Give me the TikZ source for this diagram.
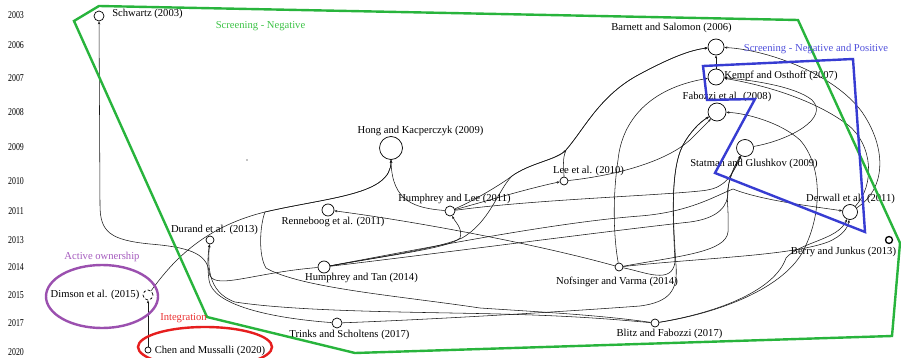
\documentclass[tikz,border=0pt]{standalone}
\usepackage{fontspec}
\setmainfont{Liberation Serif}
\usetikzlibrary{arrows.meta,backgrounds}
\definecolor{grn}{RGB}{40,180,60}
\definecolor{grntxt}{RGB}{60,195,70}
\definecolor{blu}{RGB}{55,60,210}
\definecolor{blutxt}{RGB}{80,80,220}
\definecolor{pur}{RGB}{155,80,175}
\definecolor{purtxt}{RGB}{165,90,190}
\definecolor{rd}{RGB}{230,30,30}
\definecolor{rdtxt}{RGB}{235,50,50}
\newcommand\labfont{\fontsize{10.6}{12}\selectfont}
\newcommand\yrtxt[1]{\scalebox{0.75}[1]{\fontsize{10.5}{10.5}\selectfont #1}}
\tikzset{
  pub/.style={circle, draw=black, line width=0.7pt, fill=white, inner sep=0pt},
  lab/.style={font=\labfont, inner sep=0pt, text=black},
  yr/.style={inner sep=0pt},
  cite/.style={draw=black!90, line width=0.55pt, -{Stealth[length=3pt,width=2.4pt]}},
  grp/.style={line width=2.4pt, line join=miter},
}
\begin{document}
\begin{tikzpicture}[x=1pt,y=-1pt]
\useasboundingbox (0,0) rectangle (901,358);
\clip (0,0) rectangle (901,358);

% year axis
\node[yr] (y03) at (16,15) {\yrtxt{2003}};
\node[yr] (y06) at (16,45) {\yrtxt{2006}};
\node[yr] (y07) at (16,78) {\yrtxt{2007}};
\node[yr] (y08) at (16,112) {\yrtxt{2008}};
\node[yr] (y09) at (16,147) {\yrtxt{2009}};
\node[yr] (y10) at (16,181) {\yrtxt{2010}};
\node[yr] (y11) at (16,211) {\yrtxt{2011}};
\node[yr] (y13) at (16,240) {\yrtxt{2013}};
\node[yr] (y14) at (16,267) {\yrtxt{2014}};
\node[yr] (y15) at (16,295) {\yrtxt{2015}};
\node[yr] (y17) at (16,323) {\yrtxt{2017}};
\node[yr] (y20) at (16,352) {\yrtxt{2020}};

% publications
\node[pub, minimum size=10pt] (sch) at (99,16) {};
\node[pub, minimum size=16pt] (bar) at (716,47) {};
\node[pub, minimum size=16pt] (kem) at (716,77) {};
\node[pub, minimum size=18pt] (fab) at (717,112) {};
\node[pub, minimum size=23pt] (hon) at (391,148) {};
\node[pub, minimum size=17pt] (sta) at (745,148) {};
\node[pub, minimum size=8pt] (lee) at (564,181) {};
\node[pub, minimum size=10pt] (hle) at (450,211) {};
\node[pub, minimum size=12pt] (ren) at (328,210) {};
\node[pub, minimum size=15pt] (der) at (850,212) {};
\node[pub, minimum size=8pt] (dur) at (210,240) {};
\node[pub, minimum size=7pt, line width=1.3pt] (ber) at (889,240) {};
\node[pub, minimum size=12pt] (hta) at (324,267) {};
\node[pub, minimum size=8pt] (nof) at (619,267) {};
\node[pub, minimum size=10pt, densely dashed] (dim) at (148,295) {};
\node[pub, minimum size=10pt] (tri) at (337,323) {};
\node[pub, minimum size=8pt] (bli) at (655,323) {};
\node[pub, minimum size=6pt] (che) at (148,350) {};
\fill (247,160) circle (0.6pt);

% citation links
\begin{scope}[on background layer]
\fill[white] (0,0) rectangle (901,358);
\draw[cite] (hta) .. controls (250,273) and (211,292) .. (209,272) .. controls (207,252) and (185,247) .. (150,244) .. controls (110,240) and (100,232) .. (100,205) -- (sch);
\draw[cite] (tri) .. controls (270,318) and (212,305) .. (209,280) .. controls (207,265) and (208,255) .. (dur);
\draw[cite] (bli) .. controls (620,320) and (580,316) .. (500,314) .. controls (420,312) and (300,312) .. (235,302) .. controls (206,292) and (208,262) .. (dur);
\draw[cite] (tri) .. controls (420,320) and (560,312) .. (640,306) .. controls (670,302) and (678,290) .. (676,265) .. controls (673,220) and (670,170) .. (683,145) .. controls (690,132) and (700,122) .. (fab);
\draw[cite] (nof) .. controls (645,272) and (672,285) .. (675,262) .. controls (673,220) and (670,170) .. (683,145) .. controls (690,132) and (700,122) .. (fab);
\draw[cite] (bli) .. controls (600,315) and (540,312) .. (480,308) .. controls (400,296) and (300,288) .. (266,268) .. controls (258,255) and (260,225) .. (265,212) .. controls (330,197) and (391,195) .. (hon.south);
\draw[cite] (dim) .. controls (170,265) and (200,228) .. (265,212) .. controls (330,197) and (391,195) .. (hon.south);
\draw[cite] (hle) .. controls (415,208) and (392,202) .. (hon.south);
\draw[cite] (che) -- (dim);
\draw[cite] (hle) .. controls (490,200) and (530,188) .. (lee);
\draw[cite] (hta) .. controls (380,257) and (440,248) .. (462,238) .. controls (490,222) and (498,190) .. (512,176) .. controls (530,163) and (556,160) .. (566,150) .. controls (585,128) and (600,95) .. (640,74) .. controls (670,58) and (690,50) .. (bar);
\draw[cite] (lee) .. controls (564,165) and (562,160) .. (566,150) .. controls (585,128) and (600,95) .. (640,74) .. controls (670,58) and (690,50) .. (bar);
\draw[cite] (hle) .. controls (475,200) and (500,185) .. (512,176) .. controls (530,163) and (556,160) .. (566,150);
\draw[cite] (lee) .. controls (620,175) and (670,160) .. (692,138) .. controls (702,128) and (708,122) .. (fab);
\draw[cite] (nof) .. controls (614,240) and (612,200) .. (618,160) .. controls (622,120) and (650,88) .. (kem);
\draw[cite] (nof) .. controls (540,245) and (420,222) .. (ren);
\draw[cite] (hle) .. controls (530,200) and (650,196) .. (700,191) .. controls (720,189) and (728,184) .. (sta);
\draw[cite] (hta) .. controls (440,245) and (560,222) .. (640,216) .. controls (690,212) and (715,196) .. (733,189) .. controls (760,200) and (810,206) .. (der);
\draw[cite] (hta) .. controls (450,252) and (600,232) .. (690,222) .. controls (720,218) and (728,205) .. (728,192) .. controls (728,178) and (735,165) .. (sta);
\draw[cite] (kem) -- (bar);
\draw[cite] (sta) .. controls (790,140) and (830,118) .. (812,100) .. controls (795,86) and (750,80) .. (kem);
\draw[cite] (der) .. controls (885,190) and (888,150) .. (862,112) .. controls (835,75) and (770,50) .. (bar);
\draw[cite] (der) .. controls (875,185) and (873,145) .. (848,125) .. controls (815,100) and (765,85) .. (kem);
\draw[cite] (bli) .. controls (720,312) and (775,290) .. (786,258) .. controls (800,242) and (838,240) .. (der);
\draw[cite] (bli) .. controls (725,312) and (790,285) .. (806,245) .. controls (822,210) and (822,165) .. (800,140) .. controls (780,122) and (745,113) .. (fab);
\draw[cite] (nof) .. controls (700,258) and (790,256) .. (828,242) .. controls (842,236) and (848,228) .. (der);
\draw[cite] (nof) .. controls (680,256) and (726,252) .. (728,232) .. controls (729,210) and (726,195) .. (728,188) .. controls (730,175) and (736,165) .. (sta);
\draw[cite] (hta) .. controls (390,255) and (450,248) .. (460,238) .. controls (463,228) and (455,222) .. (hle);
\end{scope}

% labels
\node[lab] (lsch) at (147.5,14) {Schwartz (2003)};
\node[lab] (lbar) at (671.5,28) {Barnett and Salomon (2006)};
\node[lab] (lkem) at (781,76) {Kempf and Osthoff (2007)};
\node[lab] (lfab) at (727,97) {Fabozzi et al. (2008)};
\node[lab] (lhon) at (420.5,131) {Hong and Kacperczyk (2009)};
\node[lab] (lsta) at (754,164) {Statman and Glushkov (2009)};
\node[lab] (llee) at (588.5,171) {Lee et al. (2010)};
\node[lab] (lhle) at (454.5,199) {Humphrey and Lee (2011)};
\node[lab] (lren) at (333,222) {Renneboog et al. (2011)};
\node[lab] (lder) at (850.5,199) {Derwall et al. (2011)};
\node[lab] (ldur) at (214.5,230) {Durand et al. (2013)};
\node[lab] (lber) at (843.5,252) {Berry and Junkus (2013)};
\node[lab] (lhta) at (361.5,278) {Humphrey and Tan (2014)};
\node[lab] (lnof) at (617,282) {Nofsinger and Varma (2014)};
\node[lab] (ldim) at (95,295) {Dimson et al. (2015)};
\node[lab] (ltri) at (349.5,335) {Trinks and Scholtens (2017)};
\node[lab] (lbli) at (669.5,334) {Blitz and Fabozzi (2017)};
\node[lab] (lche) at (210,351) {Chen and Mussalli (2020)};

% groups
\draw[grp, grn] (74,21) -- (99,6) -- (798,20) -- (900,243) -- (892,336) -- (355,353) -- (207,317) -- cycle;
\draw[grp, blu] (703,66) -- (853,59) -- (865,232) -- (715,173) -- (755,99) -- (707,100) -- cycle;
\draw[grp, pur] (102,296.5) ellipse [x radius=56pt, y radius=31.5pt];
\draw[grp, rd] (205,347) ellipse [x radius=67pt, y radius=20pt];

\node[lab, text=grntxt] (gneg) at (260.5,26) {Screening - Negative};
\node[lab, text=blutxt] (gnp) at (816,49) {Screening - Negative and Positive};
\node[lab, text=purtxt] (gact) at (102,257) {Active ownership};
\node[lab, text=rdtxt] (gint) at (183.5,318) {Integration};
\end{tikzpicture}
\end{document}
